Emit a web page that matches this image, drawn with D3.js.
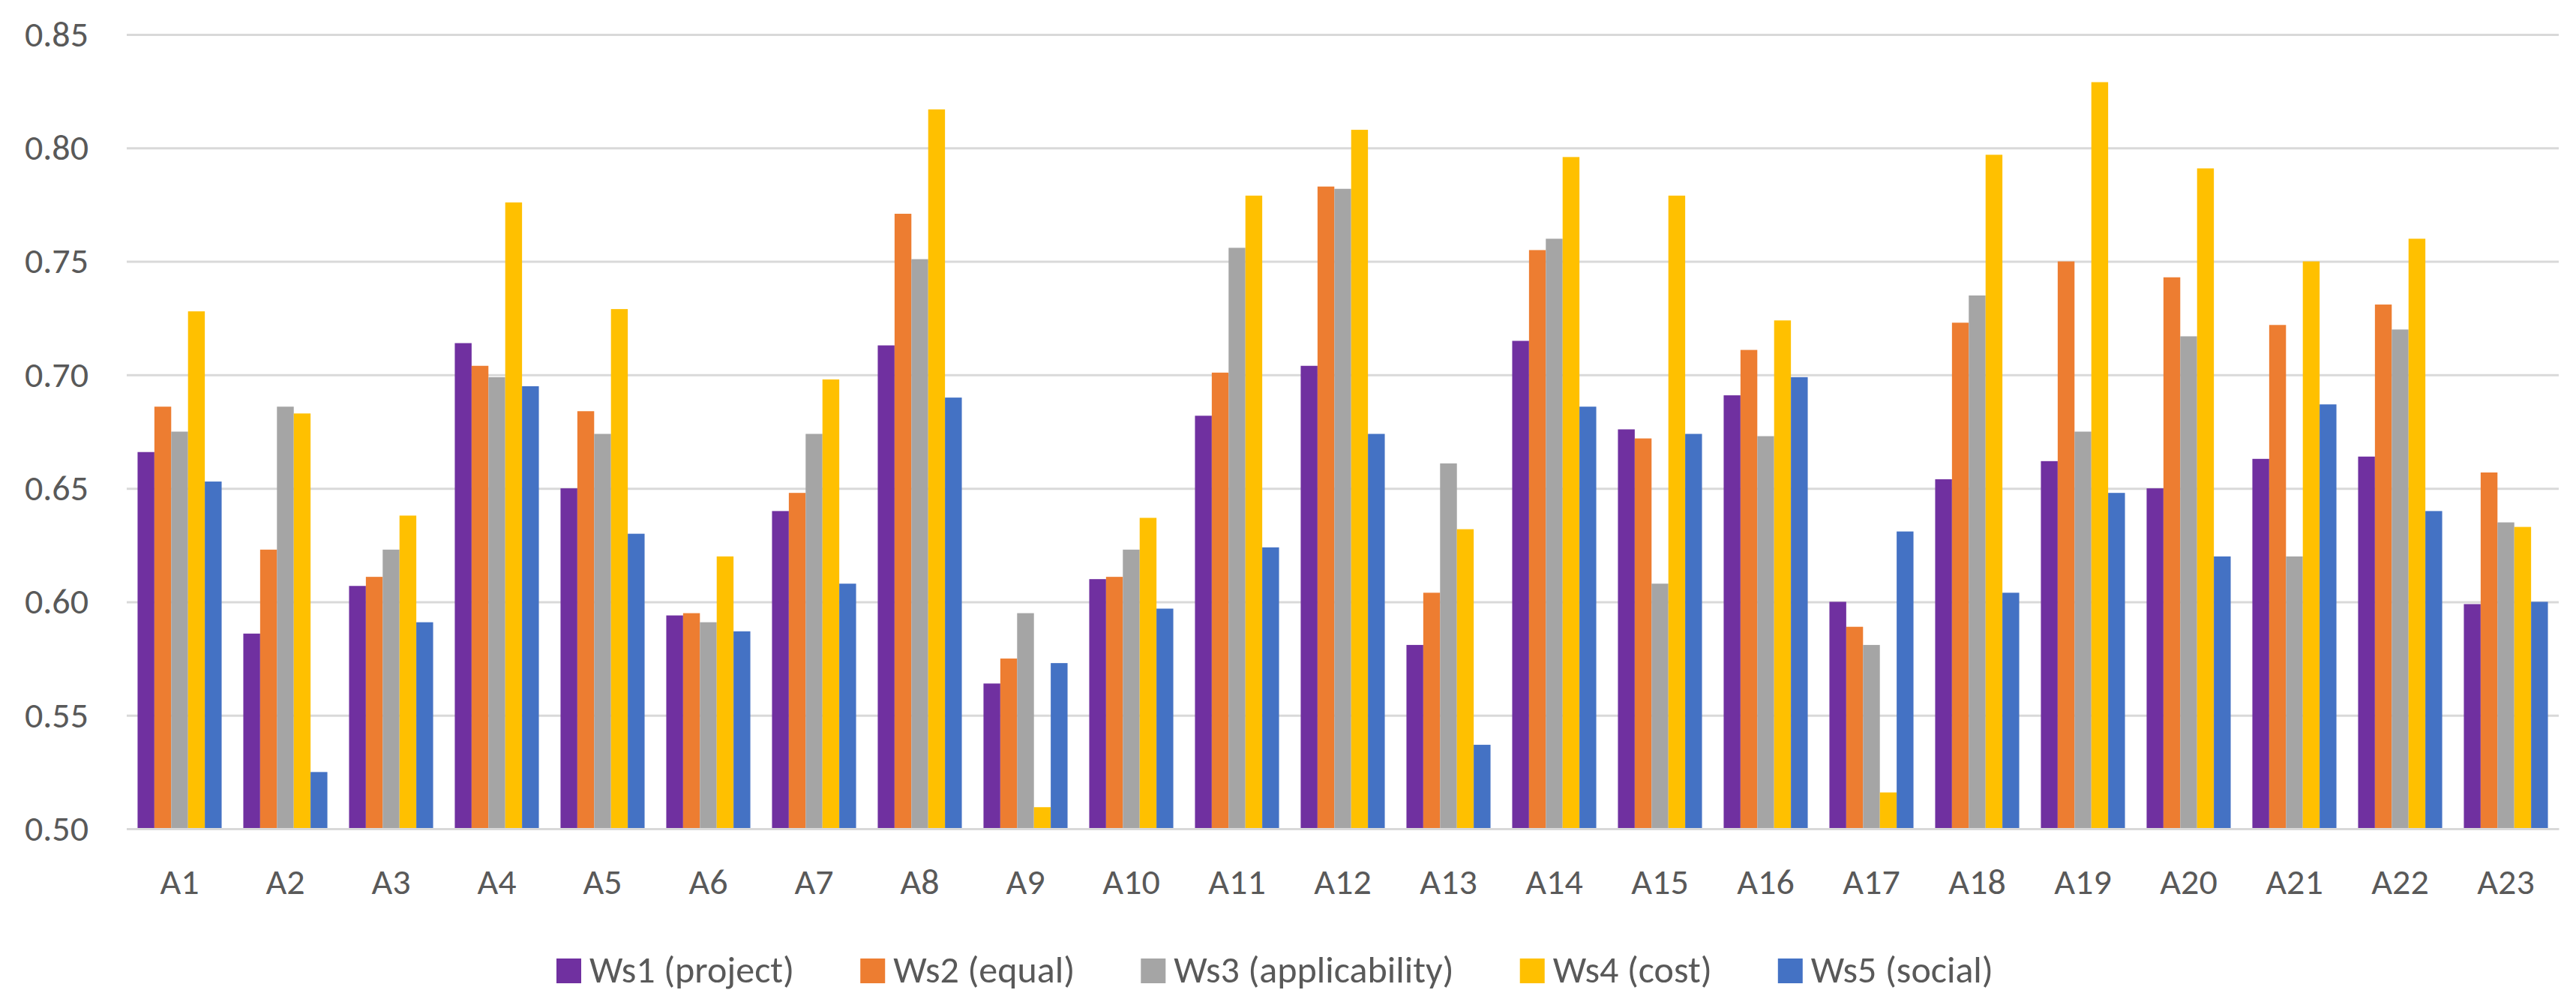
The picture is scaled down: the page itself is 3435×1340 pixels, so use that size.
<!DOCTYPE html>
<html>
<head>
<meta charset="utf-8">
<script src="https://cdn.jsdelivr.net/npm/d3@7"></script>
<style>
  html, body { margin: 0; padding: 0; background: #fff; }
  text { font-family: Calibri, Carlito, Lato, sans-serif; fill: #595959; }
</style>
</head>
<body>
<script>
const categories = ["A1", "A2", "A3", "A4", "A5", "A6", "A7", "A8", "A9", "A10", "A11", "A12",
  "A13", "A14", "A15", "A16", "A17", "A18", "A19", "A20", "A21", "A22", "A23"];
const seriesNames = ["Ws1 (project)", "Ws2 (equal)", "Ws3 (applicability)", "Ws4 (cost)", "Ws5 (social)"];
const ws1 = [0.666, 0.586, 0.607, 0.714, 0.650, 0.594, 0.640, 0.713, 0.564, 0.610, 0.682, 0.704,
  0.581, 0.715, 0.676, 0.691, 0.600, 0.654, 0.662, 0.650, 0.663, 0.664, 0.599];
const ws2 = [0.686, 0.623, 0.611, 0.704, 0.684, 0.595, 0.648, 0.771, 0.575, 0.611, 0.701, 0.783,
  0.604, 0.755, 0.672, 0.711, 0.589, 0.723, 0.750, 0.743, 0.722, 0.731, 0.657];
const ws3 = [0.675, 0.686, 0.623, 0.699, 0.674, 0.591, 0.674, 0.751, 0.595, 0.623, 0.756, 0.782,
  0.661, 0.760, 0.608, 0.673, 0.581, 0.735, 0.675, 0.717, 0.620, 0.720, 0.635];
const ws4 = [0.728, 0.683, 0.638, 0.776, 0.729, 0.620, 0.698, 0.817, 0.5095, 0.637, 0.779, 0.808,
  0.632, 0.796, 0.779, 0.724, 0.516, 0.797, 0.829, 0.791, 0.750, 0.760, 0.633];
const ws5 = [0.653, 0.525, 0.591, 0.695, 0.630, 0.587, 0.608, 0.690, 0.573, 0.597, 0.624, 0.674,
  0.537, 0.686, 0.674, 0.699, 0.631, 0.604, 0.648, 0.620, 0.687, 0.640, 0.600];
const yDomain = [0.50, 0.85];
const colors = ["#7030A0", "#ED7D31", "#A5A5A5", "#FFC000", "#4472C4"];

const totalWidth = 3435;
const totalHeight = 1340;
const margin = { top: 46, right: 23, bottom: 235, left: 169 };
const width = totalWidth - margin.left - margin.right;
const height = totalHeight - margin.top - margin.bottom;
const fontSize = 48;

const allSeries = [ws1, ws2, ws3, ws4, ws5];
const data = categories.map((cat, i) => ({
  cat,
  values: allSeries.map((s, k) => ({ key: seriesNames[k], value: s[i], color: colors[k] }))
}));

const svgRoot = d3.select(document.body).append("svg")
  .attr("width", totalWidth)
  .attr("height", totalHeight);

const svg = svgRoot.append("g")
  .attr("transform", `translate(${margin.left},${margin.top})`);

const x = d3.scaleBand()
  .domain(categories)
  .range([0, width])
  .paddingInner(0.205)
  .paddingOuter(0.1025);

const xInner = d3.scaleBand()
  .domain(seriesNames)
  .range([0, x.bandwidth()]);

const y = d3.scaleLinear()
  .domain(yDomain)
  .range([height, 0]);

// gridlines + y labels
const yAxis = svg.append("g")
  .call(d3.axisLeft(y).ticks(7).tickSize(-width).tickPadding(51).tickFormat(d3.format(".2f")));
yAxis.select(".domain").remove();
yAxis.selectAll(".tick line")
  .attr("stroke", "#D9D9D9")
  .attr("stroke-width", 3);
yAxis.selectAll(".tick text")
  .attr("font-size", fontSize)
  .attr("fill", "#595959");

// bars
const groups = svg.selectAll(".cat")
  .data(data)
  .enter().append("g")
  .attr("class", "cat")
  .attr("transform", (d) => `translate(${x(d.cat)},0)`);

groups.selectAll("rect")
  .data((d) => d.values)
  .enter().append("rect")
  .attr("x", (d) => xInner(d.key))
  .attr("y", (d) => y(d.value))
  .attr("width", xInner.bandwidth())
  .attr("height", (d) => height - y(d.value))
  .attr("fill", (d) => d.color);

// horizontal axis
const xAxis = svg.append("g")
  .attr("transform", `translate(0,${height})`)
  .call(d3.axisBottom(x).tickSize(0));
xAxis.select(".domain")
  .attr("stroke", "#D9D9D9")
  .attr("stroke-width", 3);
xAxis.selectAll(".tick text")
  .attr("y", 87)
  .attr("dy", null)
  .attr("font-size", fontSize)
  .attr("fill", "#595959");

// legend
const legend = svgRoot.append("g");
const swatch = 33;
const legendGap = 88;
let cursor = 0;
seriesNames.forEach((name, i) => {
  const item = legend.append("g").attr("transform", `translate(${cursor},0)`);
  item.append("rect")
    .attr("x", 0)
    .attr("y", -swatch)
    .attr("width", swatch)
    .attr("height", swatch)
    .attr("fill", colors[i]);
  const label = item.append("text")
    .attr("x", swatch + 11)
    .attr("y", -1)
    .attr("font-size", 50)
    .text(name);
  cursor += swatch + 11 + label.node().getComputedTextLength() + legendGap;
});
const legendWidth = cursor - legendGap;
legend.attr("transform", `translate(${1700 - legendWidth / 2},1311)`);
</script>
</body>
</html>
